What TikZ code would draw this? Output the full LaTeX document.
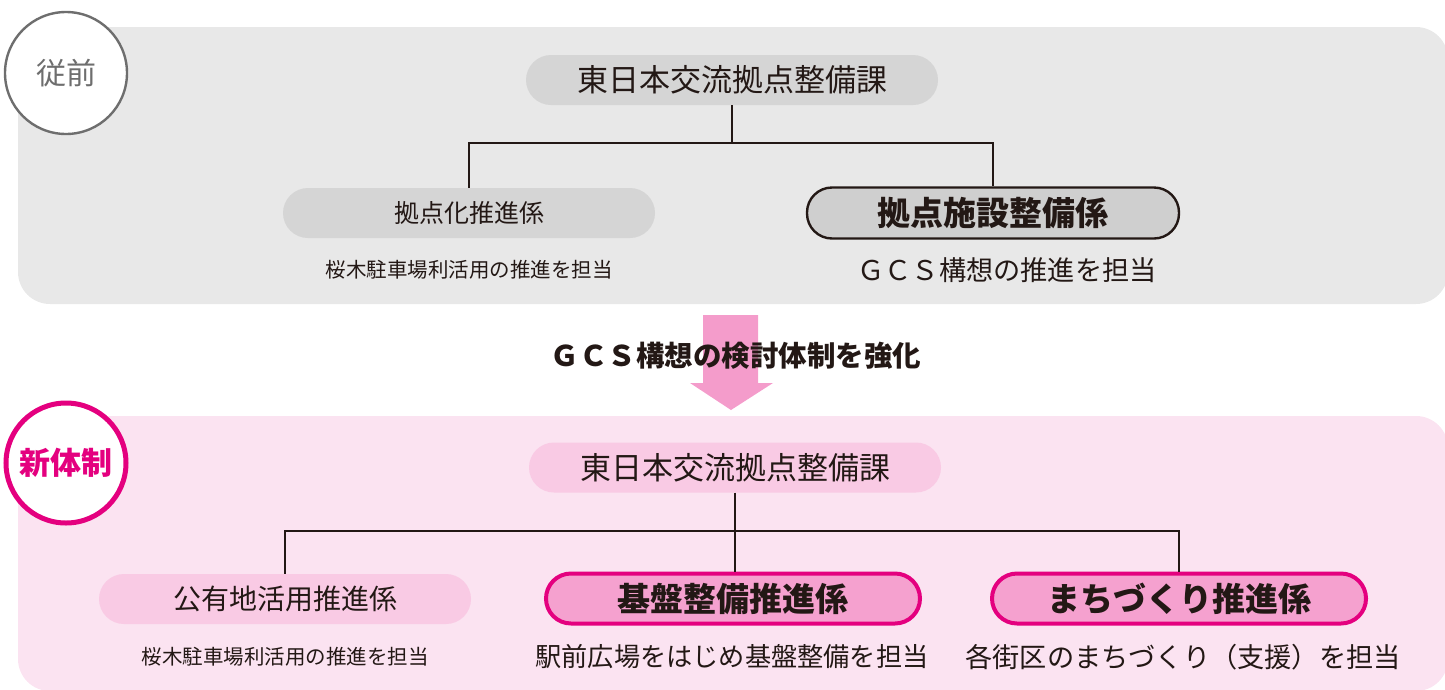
\documentclass[tikz,border=0pt]{standalone}
\usepackage{fontspec}
\setmainfont{Noto Sans CJK JP}
\definecolor{panelgray}{HTML}{E8E8E8}
\definecolor{boxgray}{HTML}{D5D5D5}
\definecolor{boxgrayB}{HTML}{CFCFCF}
\definecolor{panelpink}{HTML}{FBE3F1}
\definecolor{boxpink}{HTML}{F9CAE4}
\definecolor{boxpinkB}{HTML}{F5A1CF}
\definecolor{magenta}{HTML}{E4007F}
\definecolor{arrowpink}{HTML}{F49CCB}
\definecolor{ink}{HTML}{231815}
\definecolor{circgray}{HTML}{6E6E6E}
\tikzset{
  pill/.style={rounded corners=25pt, inner sep=0pt, minimum height=50pt, text=ink},
  graybox/.style={pill, fill=boxgray},
  grayboxB/.style={pill, fill=boxgrayB, draw=ink, line width=2.4pt},
  pinkbox/.style={pill, fill=boxpink},
  pinkboxB/.style={pill, fill=boxpinkB, draw=magenta, line width=4pt},
  subtext/.style={text=ink, inner sep=0pt},
  conn/.style={draw=ink, line width=1.8pt},
}
\begin{document}
\begin{tikzpicture}[x=1pt,y=-1pt]
\useasboundingbox (0,0) rectangle (1445,689);
% panels
\fill[panelgray, rounded corners=32pt] (18,27) rectangle (1448,304);
\fill[panelpink, rounded corners=32pt] (18,416) rectangle (1448,691);
% arrow
\fill[arrowpink] (703,315) -- (758,315) -- (758,383) -- (773,383) -- (731,410) -- (690,383) -- (703,383) -- cycle;
\node[text=ink, font=\fontsize{28.5}{30}\selectfont\bfseries, inner sep=0pt] (arrtext) at (736,356) {ＧＣＳ構想の検討体制を強化};
% circles
\node[circle, draw=circgray, line width=2.4pt, fill=white, minimum size=122pt, inner sep=0pt, text=circgray, font=\fontsize{30}{32}\selectfont] (c1) at (66,73) {従前};
\node[circle, draw=magenta, line width=5pt, fill=white, minimum size=120pt, inner sep=0pt, text=magenta, font=\fontsize{31}{33}\selectfont\bfseries] (c2) at (66,463) {新体制};
% top org
\node[graybox, minimum width=412pt, font=\fontsize{31}{33}\selectfont] (t1) at (732,80) {東日本交流拠点整備課};
\node[graybox, minimum width=372pt, font=\fontsize{25}{28}\selectfont] (a1) at (469,213) {拠点化推進係};
\node[grayboxB, minimum width=372pt, minimum height=51pt, font=\fontsize{33}{36}\selectfont\bfseries] (a2) at (993,213) {拠点施設整備係};
\node[subtext, font=\fontsize{20.5}{23}\selectfont] (s1) at (469,270) {桜木駐車場利活用の推進を担当};
\node[subtext, font=\fontsize{27.2}{30}\selectfont] (s2) at (1007,270) {ＧＣＳ構想の推進を担当};
\path (t1.south) ++(0,38) coordinate (j1);
\draw[conn] (t1.south) -- (j1);
\draw[conn] (a1.north) |- (j1) -| (a2.north);
% bottom org
\node[pinkbox, minimum width=412pt, font=\fontsize{31}{33}\selectfont] (t2) at (735,467.5) {東日本交流拠点整備課};
\node[pinkbox, minimum width=372pt, font=\fontsize{28}{32}\selectfont] (b1) at (285,599) {公有地活用推進係};
\node[pinkboxB, minimum width=374pt, font=\fontsize{33}{36}\selectfont\bfseries] (b2) at (733,598.5) {基盤整備推進係};
\node[pinkboxB, minimum width=374pt, font=\fontsize{33}{36}\selectfont\bfseries] (b3) at (1179,598.5) {まちづくり推進係};
\node[subtext, font=\fontsize{20.5}{23}\selectfont] (u1) at (285,657) {桜木駐車場利活用の推進を担当};
\node[subtext, font=\fontsize{26.2}{28}\selectfont] (u2) at (732,657) {駅前広場をはじめ基盤整備を担当};
\node[subtext, font=\fontsize{27.2}{30}\selectfont] (u3) at (1183,657) {各街区のまちづくり（支援）を担当};
\path (t2.south) ++(0,38) coordinate (j2);
\draw[conn] (t2.south) -- (j2);
\draw[conn] (j2) -- (j2 |- b2.north);
\draw[conn] (b1.north) |- (j2) -| (b3.north);
\end{tikzpicture}
\end{document}
